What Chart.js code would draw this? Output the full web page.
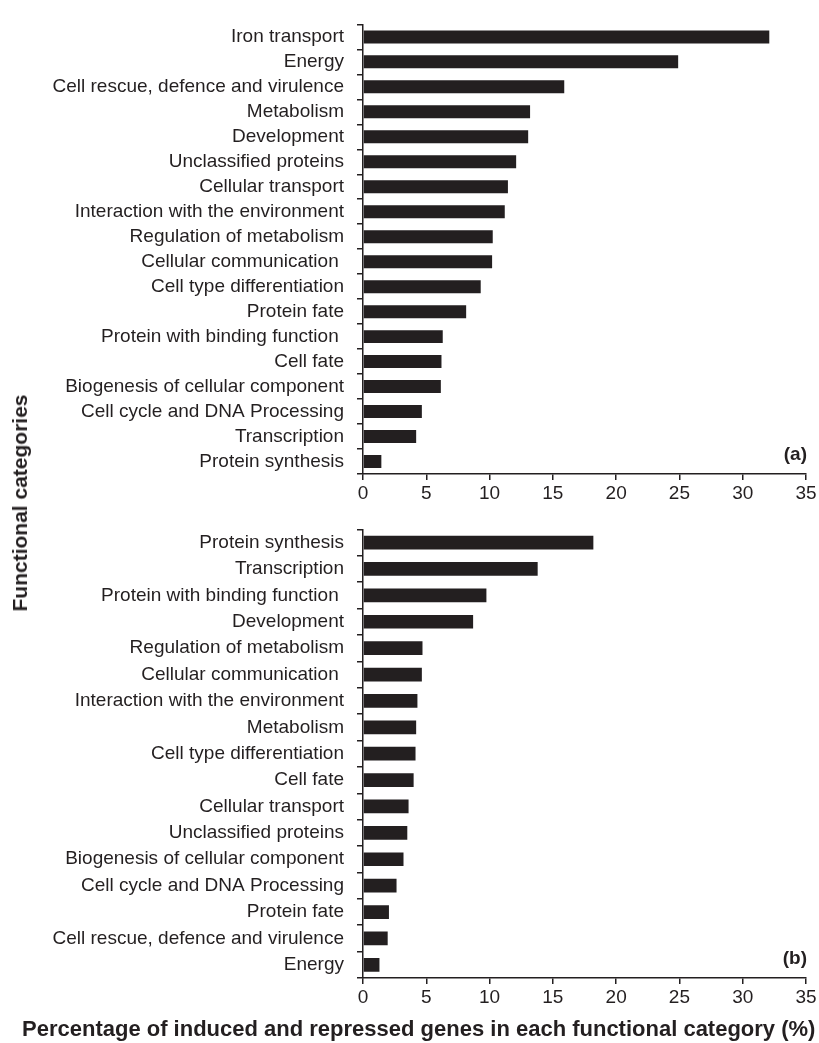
<!DOCTYPE html>
<html lang="en">
  <head>
    <meta charset="UTF-8" />
    <title>Functional categories</title>
    <script src="https://cdn.jsdelivr.net/npm/chart.js"></script>
    <style>
      body { margin: 0; background: #fff; width: 819px; height: 1043px; position: relative; overflow: hidden; font-family: "Liberation Sans", Arial, sans-serif; color: #231f20; }
      canvas { position: absolute; left: 0; }
      #chartA { top: 0; }
      #chartB { top: 505px; }
      .ytitle { position: absolute; left: 20px; top: 503px; transform: translate(-50%, -50%) rotate(-90deg); font-weight: bold; font-size: 21px; white-space: nowrap; }
      .xtitle { position: absolute; left: 22px; top: 1016px; font-weight: bold; font-size: 22px; white-space: nowrap; }
    </style>
  </head>
  <body>
    <canvas id="chartA" width="819" height="510"></canvas>
    <canvas id="chartB" width="819" height="510"></canvas>
    <div class="ytitle">Functional categories</div>
    <div class="xtitle">Percentage of induced and repressed genes in each functional category (%)</div>
    <script>
      // panel (a)
      const categoriesA = [
        "Iron transport", "Energy", "Cell rescue, defence and virulence", "Metabolism",
        "Development", "Unclassified proteins", "Cellular transport",
        "Interaction with the environment", "Regulation of metabolism",
        "Cellular communication ", "Cell type differentiation", "Protein fate",
        "Protein with binding function ", "Cell fate", "Biogenesis of cellular component",
        "Cell cycle and DNA Processing", "Transcription", "Protein synthesis"
      ];
      const valuesA = [32.1, 24.9, 15.9, 13.2, 13.05, 12.1, 11.45, 11.2, 10.25, 10.2, 9.3, 8.15, 6.3, 6.2, 6.15, 4.65, 4.2, 1.45];

      // panel (b)
      const categoriesB = [
        "Protein synthesis", "Transcription", "Protein with binding function ", "Development",
        "Regulation of metabolism", "Cellular communication ", "Interaction with the environment",
        "Metabolism", "Cell type differentiation", "Cell fate", "Cellular transport",
        "Unclassified proteins", "Biogenesis of cellular component",
        "Cell cycle and DNA Processing", "Protein fate", "Cell rescue, defence and virulence", "Energy"
      ];
      const valuesB = [18.2, 13.8, 9.75, 8.7, 4.7, 4.65, 4.3, 4.2, 4.15, 4.0, 3.6, 3.5, 3.2, 2.65, 2.05, 1.95, 1.3];

      const xTicks = [0, 5, 10, 15, 20, 25, 30, 35];

      const ink = "#231f20";
      const font = { family: "'Liberation Sans', Arial, sans-serif", size: 19 };

      // draws the (a) / (b) tag in the lower right corner
      const panelTag = {
        id: "panelTag",
        afterDraw(chart, args, opts) {
          const { ctx, chartArea } = chart;
          ctx.save();
          ctx.font = "bold 19px 'Liberation Sans', Arial, sans-serif";
          ctx.fillStyle = ink;
          ctx.textAlign = "right";
          ctx.textBaseline = "middle";
          ctx.fillText(opts.text, chartArea.right + 1, chartArea.bottom - 19);
          ctx.restore();
        },
      };

      function makeChart(id, labels, values, tag, padTop, xHeight) {
        return new Chart(document.getElementById(id), {
          type: "bar",
          data: {
            labels: labels,
            datasets: [{ data: values, backgroundColor: ink, barPercentage: 0.52, categoryPercentage: 1 }],
          },
          plugins: [panelTag],
          options: {
            indexAxis: "y",
            responsive: false,
            animation: false,
            layout: { padding: { top: padTop, right: 13, left: 0, bottom: 0 } },
            plugins: { legend: { display: false }, tooltip: { enabled: false }, panelTag: { text: tag } },
            scales: {
              x: {
                min: 0,
                max: 35,
                afterBuildTicks: (scale) => { scale.ticks = xTicks.map((v) => ({ value: v })); },
                afterFit: (scale) => { scale.height = xHeight; },
                ticks: { color: ink, font: font, padding: 2, maxRotation: 0 },
                grid: { drawOnChartArea: false, drawTicks: true, tickLength: 6, color: ink, lineWidth: 1.5 },
                border: { color: ink, width: 1.5 },
              },
              y: {
                afterFit: (scale) => { scale.width = 363; },
                ticks: { color: ink, font: font, padding: 13, autoSkip: false },
                grid: { offset: true, drawOnChartArea: false, drawTicks: true, tickLength: 6, color: ink, lineWidth: 1.5 },
                border: { color: ink, width: 1.5 },
              },
            },
          },
        });
      }

      makeChart("chartA", categoriesA, valuesA, "(a)", 12, 36);
      makeChart("chartB", categoriesB, valuesB, "(b)", 24, 37);
    </script>
  </body>
</html>
